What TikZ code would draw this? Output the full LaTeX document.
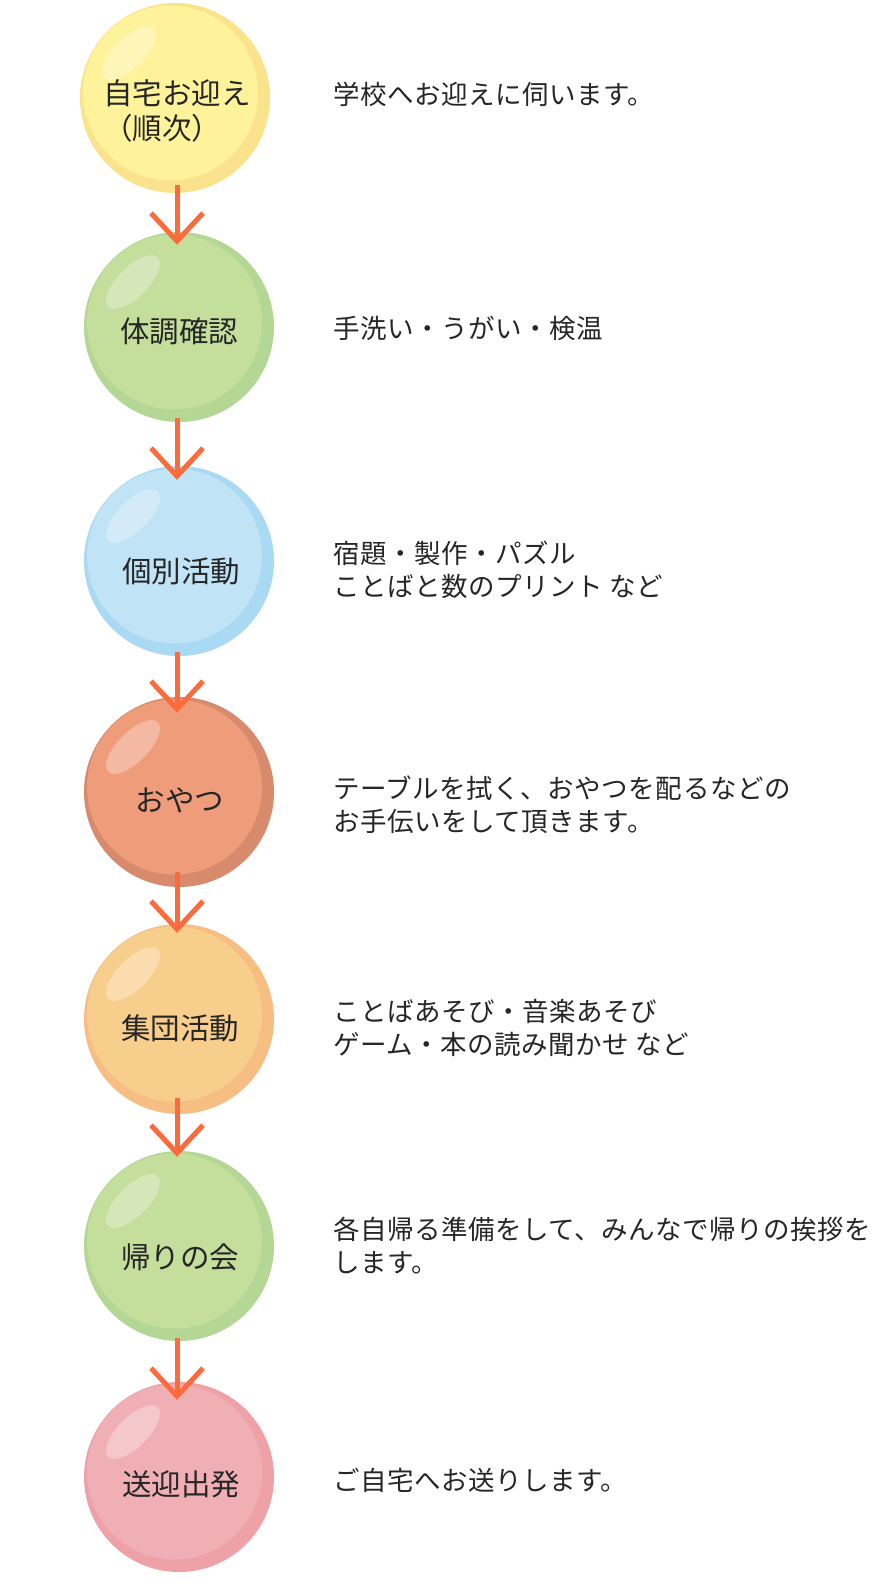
\documentclass[tikz,border=0pt]{standalone}
\usepackage{fontspec}
\newfontfamily\jpfont{Noto Sans CJK JP}
\newfontfamily\jpwide[LetterSpace=2]{Noto Sans CJK JP}
\usetikzlibrary{arrows.meta}
\definecolor{yellowout}{HTML}{FBE28C}
\definecolor{yellowin}{HTML}{FEF39B}
\definecolor{greenout}{HTML}{B5D795}
\definecolor{greenin}{HTML}{C4DE9B}
\definecolor{blueout}{HTML}{A9D9F3}
\definecolor{bluein}{HTML}{C0E3F6}
\definecolor{salmonout}{HTML}{D88B6C}
\definecolor{salmonin}{HTML}{EF9C7B}
\definecolor{peachout}{HTML}{F6BE82}
\definecolor{peachin}{HTML}{F8CE8C}
\definecolor{pinkout}{HTML}{EEA2A8}
\definecolor{pinkin}{HTML}{F0AFB4}
\definecolor{arrowred}{HTML}{FD6A3B}
\begin{document}
\begin{tikzpicture}[x=1pt,y=-1pt,
    bubble/.style 2 args={circle, minimum size=190pt, inner sep=0pt, fill=#1,
        path picture={
            \fill[#2] ([xshift=-4.5pt,yshift=5pt]path picture bounding box.center) circle [radius=87.5pt];
            \fill[white,opacity=.3] ([xshift=-46pt,yshift=45pt]path picture bounding box.center) circle [x radius=35pt,y radius=15pt,rotate=45];
        }},
    steptext/.style={font=\jpfont\fontsize{29.5}{35}\selectfont, text=black!85, inner sep=0pt, align=left},
    desctext/.style={font=\jpwide\fontsize{26.5}{33}\selectfont, text=black!85, inner sep=0pt, anchor=west, align=left},
    flow/.style={draw=arrowred, line width=5pt, -{Straight Barb[length=28pt,width=52pt,sharp]}}]
            \useasboundingbox (0,0) rectangle (880,1587);

            % 円
            \node[bubble={yellowout}{yellowin}] (step1) at (175,98) {};
            \node[bubble={greenout}{greenin}] (step2) at (179,327) {};
            \node[bubble={blueout}{bluein}] (step3) at (179,561) {};
            \node[bubble={salmonout}{salmonin}] (step4) at (179,792) {};
            \node[bubble={peachout}{peachin}] (step5) at (179,1019) {};
            \node[bubble={greenout}{greenin}] (step6) at (179,1246) {};
            \node[bubble={pinkout}{pinkin}] (step7) at (179,1477) {};

            % 円の中の文字
            \node[steptext] (name1) at (177,111) {自宅お迎え\\（順次）};
            \node[steptext] (name2) at (179,331) {体調確認};
            \node[steptext] (name3) at (181,571) {個別活動};
            \node[steptext] (name4) at (180,800) {おやつ};
            \node[steptext] (name5) at (180,1028) {集団活動};
            \node[steptext] (name6) at (180,1257) {帰りの会};
            \node[steptext] (name7) at (181,1484) {送迎出発};

            % 矢印
            \draw[flow] ([xshift=2pt,yshift=8pt]step1.south) -- ([xshift=-2pt,yshift=-13pt]step2.north);
            \draw[flow] ([xshift=-2pt,yshift=4pt]step2.south) -- ([xshift=-2pt,yshift=-14pt]step3.north);
            \draw[flow] ([xshift=-2pt,yshift=4pt]step3.south) -- ([xshift=-2pt,yshift=-16pt]step4.north);
            \draw[flow] ([xshift=-2pt,yshift=15pt]step4.south) -- ([xshift=-2pt,yshift=-9pt]step5.north);
            \draw[flow] ([xshift=-2pt,yshift=16pt]step5.south) -- ([xshift=-2pt,yshift=-6pt]step6.north);
            \draw[flow] ([xshift=-2pt,yshift=3pt]step6.south) -- ([xshift=-2pt,yshift=-18pt]step7.north);

            % 説明
            \node[desctext] (desc1) at (333,94) {学校へお迎えに伺います。};
            \node[desctext] (desc2) at (333,328) {手洗い・うがい・検温};
            \node[desctext] (desc3) at (333,570) {宿題・製作・パズル\\ことばと数のプリント など};
            \node[desctext] (desc4) at (333,805) {テーブルを拭く、おやつを配るなどの\\お手伝いをして頂きます。};
            \node[desctext] (desc5) at (333,1028) {ことばあそび・音楽あそび\\ゲーム・本の読み聞かせ など};
            \node[desctext] (desc6) at (333,1246) {各自帰る準備をして、みんなで帰りの挨拶を\\します。};
            \node[desctext] (desc7) at (333,1480) {ご自宅へお送りします。};
\end{tikzpicture}
\end{document}
